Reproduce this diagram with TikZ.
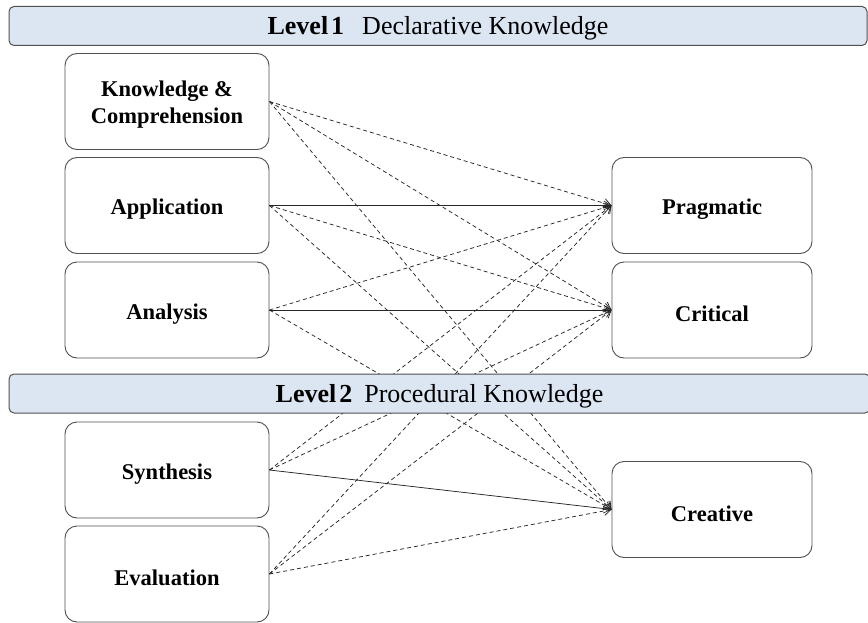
\documentclass[tikz,border=0pt]{standalone}
\usepackage{fontspec}
\setmainfont{Liberation Serif}
\usetikzlibrary{arrows.meta}
\definecolor{barfill}{HTML}{DCE6F2}
\definecolor{edgegray}{HTML}{505050}
\definecolor{linegray}{HTML}{262626}
\newcommand\lowtext[2][-4pt]{\raisebox{#1}[\height][\depth]{#2}}
\begin{document}
\begin{tikzpicture}[x=1pt,y=-1pt,
  box/.style={draw=edgegray, line width=0.9pt, rounded corners=12pt, fill=white,
    minimum width=204pt, minimum height=96pt, align=center, inner sep=0pt,
    font=\fontsize{22.5}{26.5}\selectfont\bfseries},
  rbox/.style={box, minimum width=200pt},
  bar/.style={draw=edgegray, line width=1pt, rounded corners=5pt, fill=barfill,
    minimum height=39pt, inner sep=0pt, font=\fontsize{26}{28}\selectfont},
  link/.style={draw=linegray, line width=0.75pt, -{Straight Barb[length=7pt,width=9pt]}},
  dlink/.style={link, dash pattern=on 4pt off 3pt}]
\useasboundingbox (0,0) rectangle (868,623);

\node[bar, minimum width=858pt] (lev1) at (438,26)
  {\lowtext[-2.5pt]{\textbf{Level\hspace{3pt}1}\hspace{18pt}Declarative Knowledge}};

\node[box] (kc)  at (167,101.5)
  {\lowtext[-3pt]{\begin{tabular}{@{}c@{}}Knowledge \&\\[0.5pt]Comprehension\end{tabular}}};
\node[box] (app) at (167,205.5) {\lowtext{Application}};
\node[box] (ana) at (167,310) {\lowtext{Analysis}};
\node[box] (syn) at (167,470) {\lowtext{Synthesis}};
\node[box] (eva) at (167,574) {\lowtext{Evaluation}};

\node[rbox] (prag) at (712,205.5) {\lowtext{Pragmatic}};
\node[rbox] (crit) at (712,310) {\lowtext{Critical}};
\node[rbox] (crea) at (712,509.5) {\lowtext{Creative}};

% Knowledge & Comprehension
\draw[dlink] (kc.east) -- (prag.west);
\draw[dlink] (kc.east) -- (crit.west);
\draw[dlink] (kc.east) -- (crea.west);
% Application
\draw[link]  (app.east) -- (prag.west);
\draw[dlink] (app.east) -- (crit.west);
\draw[dlink] (app.east) -- (crea.west);
% Analysis
\draw[dlink] (ana.east) -- (prag.west);
\draw[link]  (ana.east) -- (crit.west);
\draw[dlink] (ana.east) -- (crea.west);
% Synthesis
\draw[dlink] (syn.east) -- (prag.west);
\draw[dlink] (syn.east) -- (crit.west);
\draw[link]  (syn.east) -- (crea.west);
% Evaluation
\draw[dlink] (eva.east) -- (prag.west);
\draw[dlink] (eva.east) -- (crit.west);
\draw[dlink] (eva.east) -- (crea.west);

\node[bar, minimum width=861pt] (lev2) at (439.5,393.5)
  {\lowtext[-2.5pt]{\textbf{Level\hspace{3pt}2}\hspace{12pt}Procedural Knowledge}};
\end{tikzpicture}
\end{document}
